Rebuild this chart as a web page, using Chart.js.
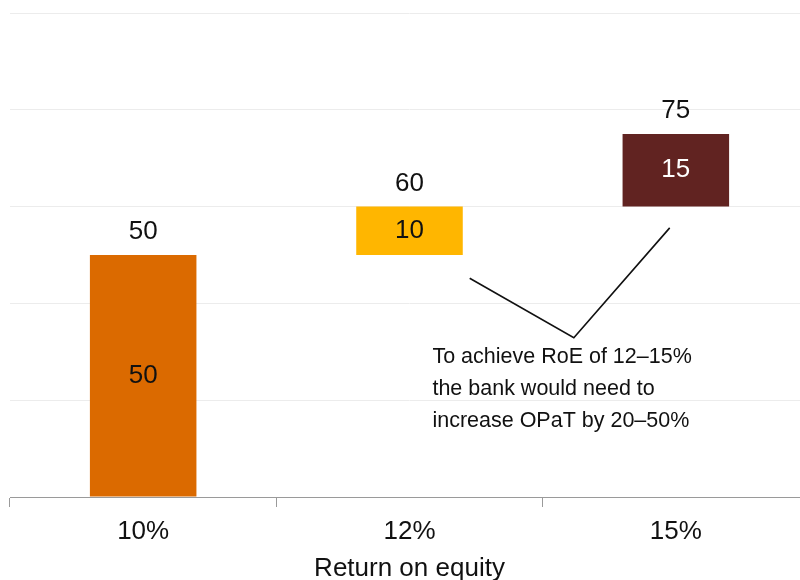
<!DOCTYPE html>
<html>
<head>
<meta charset="utf-8">
<title>Return on equity</title>
<script src="https://cdn.jsdelivr.net/npm/chart.js@4/dist/chart.umd.min.js"></script>
<style>
  html, body { margin: 0; padding: 0; background: #ffffff; }
  /* the last category runs slightly past the right edge of the page */
  #wrap { width: 800px; height: 580px; overflow: hidden; }
  #chart { display: block; }
</style>
</head>
<body>
<div id="wrap"><canvas id="chart" width="810" height="580"></canvas></div>
<script>
// Return-on-equity scenarios and the OPaT step needed for each
const categories = ['10%', '12%', '15%'];
const increments = [50, 10, 15];
const totals = [50, 60, 75];
const barColors = ['#DB6A00', '#FFB600', '#612321'];
const innerLabelColors = ['#111111', '#111111', '#ffffff'];

// y-axis range and grid
const yMin = 0;
const yMax = 100;
const yStep = 20;

// callout line (category index, value) and its note
const calloutPoints = [[1.226, 45.2], [1.617, 32.9], [1.977, 55.6]];
const calloutTextAnchor = [1.086, 29.0];
const calloutLines = [
  'To achieve RoE of 12\u201315%',
  'the bank would need to',
  'increase OPaT by 20\u201350%'
];

const FONT = "'Liberation Sans', Arial, Helvetica, sans-serif";

// floating bars: each step starts where the previous total ended
const floating = increments.map((v, i) => [totals[i] - v, totals[i]]);

const labelPlugin = {
  id: 'stepLabels',
  afterDatasetsDraw(chart) {
    const ctx = chart.ctx;
    const meta = chart.getDatasetMeta(0);
    ctx.save();
    ctx.font = '26px ' + FONT;
    ctx.textAlign = 'center';
    meta.data.forEach((bar, i) => {
      const top = Math.min(bar.y, bar.base);
      const bottom = Math.max(bar.y, bar.base);
      // value inside the bar
      ctx.fillStyle = innerLabelColors[i];
      ctx.textBaseline = 'middle';
      ctx.fillText(String(increments[i]), bar.x, (top + bottom) / 2);
      // running total above the bar
      ctx.fillStyle = '#111111';
      ctx.textBaseline = 'alphabetic';
      ctx.fillText(String(totals[i]), bar.x, top - 16);
    });
    ctx.restore();
  }
};

const calloutPlugin = {
  id: 'callout',
  afterDatasetsDraw(chart) {
    const ctx = chart.ctx;
    const xs = chart.scales.x;
    const ys = chart.scales.y;
    ctx.save();
    ctx.strokeStyle = '#111111';
    ctx.lineWidth = 1.6;
    ctx.beginPath();
    calloutPoints.forEach((p, i) => {
      const px = xs.getPixelForValue(p[0]);
      const py = ys.getPixelForValue(p[1]);
      if (i === 0) ctx.moveTo(px, py); else ctx.lineTo(px, py);
    });
    ctx.stroke();
    ctx.font = '21.5px ' + FONT;
    ctx.fillStyle = '#111111';
    ctx.textAlign = 'left';
    ctx.textBaseline = 'middle';
    const tx = xs.getPixelForValue(calloutTextAnchor[0]);
    const ty = ys.getPixelForValue(calloutTextAnchor[1]);
    calloutLines.forEach((line, i) => {
      ctx.fillText(line, tx, ty + i * 32);
    });
    ctx.restore();
  }
};

new Chart(document.getElementById('chart'), {
  type: 'bar',
  data: {
    labels: categories,
    datasets: [{
      data: floating,
      backgroundColor: barColors,
      borderWidth: 0,
      barPercentage: 0.4,
      categoryPercentage: 1.0
    }]
  },
  options: {
    responsive: false,
    animation: false,
    layout: { padding: { left: 10, right: 1, top: 13, bottom: 0 } },
    plugins: {
      legend: { display: false },
      tooltip: { enabled: false }
    },
    scales: {
      x: {
        afterFit(scale) { scale.height = 83; },
        grid: {
          offset: true,
          drawOnChartArea: false,
          drawTicks: true,
          tickLength: 10,
          color: '#9a9a9a'
        },
        border: { display: true, color: '#9a9a9a', width: 1 },
        ticks: {
          color: '#111111',
          font: { family: FONT, size: 26, lineHeight: 1.0 },
          padding: 12
        },
        title: {
          display: true,
          text: 'Return on equity',
          color: '#111111',
          font: { family: FONT, size: 26, lineHeight: 0.85 },
          padding: { top: 0, bottom: 0 }
        }
      },
      y: {
        min: yMin,
        max: yMax,
        ticks: { display: false, stepSize: yStep },
        grid: { color: '#ececec', lineWidth: 1, drawTicks: false },
        border: { display: false }
      }
    }
  },
  plugins: [labelPlugin, calloutPlugin]
});
</script>
</body>
</html>
